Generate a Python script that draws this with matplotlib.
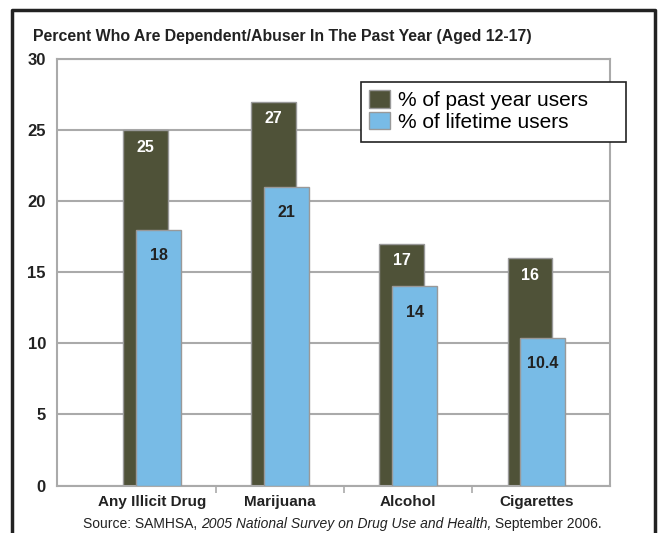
import numpy as np
import matplotlib.pyplot as plt
from matplotlib.lines import Line2D
from matplotlib.patches import Patch, Rectangle

plt.rcParams["font.family"] = ["Liberation Sans", "DejaVu Sans"]

# data
categories = ["Any Illicit Drug", "Marijuana", "Alcohol", "Cigarettes"]
past_year = [25, 27, 17, 16]
lifetime = [18, 21, 14, 10.4]
past_labels = ["25", "27", "17", "16"]
life_labels = ["18", "21", "14", "10.4"]
series_names = ["% of past year users", "% of lifetime users"]
yticks = [0, 5, 10, 15, 20, 25, 30]
source_parts = ["Source: SAMHSA, ", "2005 National Survey on Drug Use and Health,",
                " September 2006."]

dark = "#4f5238"
blue = "#78bbe6"
grid = "#aaaaaa"

W, H = 661, 533
fig = plt.figure(figsize=(W / 100, H / 100), dpi=100)
ax = fig.add_axes([57 / W, 1 - 485.5 / H, (610 - 57) / W, (485.5 - 59) / H])

x = np.arange(len(categories))
bw = 0.35
off = 0.1

ax.bar(x, past_year, width=bw, color=dark, edgecolor="#999999", linewidth=1.0,
       zorder=2, align="center")
ax.bar(x + off, lifetime, width=bw, color=blue, edgecolor="#999999", linewidth=1.0,
       zorder=3, align="center")

for i in range(len(categories)):
    ax.text(x[i], past_year[i] - 1.2, past_labels[i], ha="center", va="center",
            color="white", fontsize=11.5, fontweight="bold", zorder=4)
    ax.text(x[i] + off, lifetime[i] - 1.8, life_labels[i], ha="center", va="center",
            color="#222222", fontsize=11.5, fontweight="bold", zorder=4)

ax.set_xlim(-0.692, 3.625)
ax.set_ylim(0, 30)
ax.set_yticks(yticks)
ax.set_yticklabels([str(v) for v in yticks], fontsize=12, fontweight="bold")
ax.yaxis.grid(True, color=grid, linewidth=1.5, zorder=0)
ax.set_axisbelow(True)
ax.tick_params(axis="y", length=0, pad=8, colors="#222222")

ax.set_xticks(x + off / 2)
ax.set_xticklabels(categories, fontsize=11, fontweight="bold", color="#222222")
ax.set_xticks(np.arange(len(categories) - 1) + 0.55, minor=True)
ax.tick_params(axis="x", which="major", length=0, pad=7)
ax.tick_params(axis="x", which="minor", length=5, width=1.2, color=grid, direction="out")

for s in ax.spines.values():
    s.set_color(grid)
    s.set_linewidth(1.5)

fig.text(33 / W, 1 - 37 / H, "Percent Who Are Dependent/Abuser In The Past Year (Aged 12-17)",
         ha="left", va="center", fontsize=11.4, fontweight="bold", color="#222222")

# source line: plain / italic / plain, chained one after another
t = fig.text(83 / W, 1 - 524 / H, source_parts[0], ha="left", va="center",
             fontsize=10, color="#222222")
for part, style in zip(source_parts[1:], ["italic", "normal"]):
    t = ax.annotate(part, xy=(1, 0.5), xycoords=t, ha="left", va="center",
                    fontsize=10, color="#222222", style=style, annotation_clip=False)

# legend with a hand-sized frame
handles = [Patch(facecolor=dark, edgecolor="#999999"),
           Patch(facecolor=blue, edgecolor="#999999")]
fig.legend(handles, series_names, loc="upper left",
           bbox_to_anchor=(363 / W, 1 - 84 / H), fontsize=15,
           frameon=False, borderpad=0.3, handlelength=1.0,
           handleheight=0.9, handletextpad=0.4, labelspacing=0.1,
           borderaxespad=0)
fig.add_artist(Rectangle((361 / W, 1 - 142 / H), (626 - 361) / W, 60 / H,
                         transform=fig.transFigure, facecolor="white",
                         edgecolor="#222222", linewidth=1.2, zorder=0.5))

# outer frame, open at the bottom
fig.add_artist(Line2D([12 / W, 12 / W, 655 / W, 655 / W], [0, 1 - 10 / H, 1 - 10 / H, 0],
                      color="#222222", linewidth=2.5, transform=fig.transFigure))

fig.savefig("out.png", dpi=100)
